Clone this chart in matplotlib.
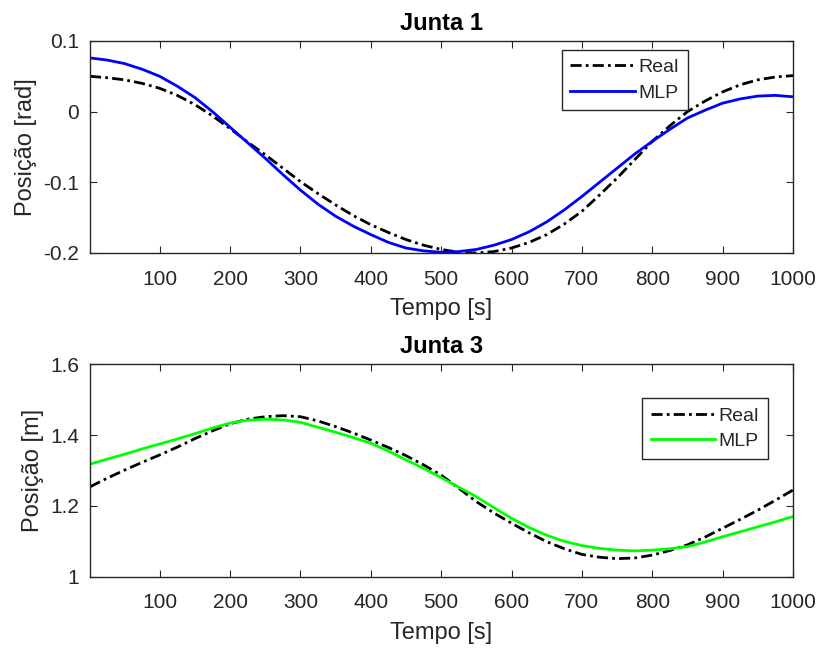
import numpy as np
import matplotlib
matplotlib.use("Agg")
import matplotlib.pyplot as plt

plt.rcParams['font.family'] = ['Liberation Sans', 'DejaVu Sans']

# sample times [s]
tempo = [1, 25, 50, 75, 100, 125, 150, 175, 200, 225, 250, 275, 300, 325, 350, 375,
         400, 425, 450, 475, 500, 525, 550, 575, 600, 625, 650, 675, 700, 725, 750,
         775, 800, 825, 850, 875, 900, 925, 950, 975, 1000]

# junta 1 [rad]
j1_real = [0.050, 0.048, 0.045, 0.040, 0.033, 0.023, 0.010, -0.006, -0.024, -0.043,
           -0.061, -0.080, -0.099, -0.116, -0.132, -0.147, -0.160, -0.171, -0.181, -0.189,
           -0.195, -0.199, -0.200, -0.198, -0.193, -0.185, -0.174, -0.159, -0.141, -0.118,
           -0.094, -0.068, -0.042, -0.020, 0.000, 0.015, 0.028, 0.038, 0.045, 0.049, 0.051]
j1_mlp = [0.076, 0.073, 0.068, 0.060, 0.050, 0.036, 0.020, 0.000, -0.022, -0.044,
          -0.066, -0.089, -0.111, -0.131, -0.148, -0.162, -0.174, -0.185, -0.193, -0.197,
          -0.199, -0.198, -0.195, -0.189, -0.181, -0.170, -0.156, -0.139, -0.120, -0.100,
          -0.080, -0.060, -0.042, -0.025, -0.009, 0.002, 0.012, 0.018, 0.022, 0.023, 0.021]

# junta 3 [m]
j3_real = [1.254, 1.278, 1.301, 1.323, 1.344, 1.366, 1.390, 1.412, 1.432, 1.445,
           1.452, 1.455, 1.452, 1.440, 1.424, 1.406, 1.386, 1.365, 1.342, 1.316,
           1.287, 1.250, 1.212, 1.180, 1.151, 1.124, 1.099, 1.079, 1.063, 1.055,
           1.051, 1.053, 1.061, 1.074, 1.090, 1.112, 1.137, 1.162, 1.188, 1.216, 1.245]
j3_mlp = [1.318, 1.332, 1.346, 1.361, 1.375, 1.389, 1.404, 1.420, 1.434, 1.442,
          1.445, 1.443, 1.436, 1.422, 1.408, 1.393, 1.377, 1.355, 1.330, 1.306,
          1.280, 1.253, 1.226, 1.195, 1.165, 1.139, 1.117, 1.100, 1.088, 1.080,
          1.075, 1.073, 1.075, 1.079, 1.085, 1.098, 1.113, 1.127, 1.141, 1.155, 1.170]

xticks = [100, 200, 300, 400, 500, 600, 700, 800, 900, 1000]
gray = '#262626'
dashdot = (4, 1.5, 1, 1.5)


def style_axes(ax, yticks, ylabels):
    ax.set_xlim(1, 1000)
    ax.set_ylim(yticks[0], yticks[-1])
    ax.set_xticks(xticks)
    ax.set_yticks(yticks)
    ax.set_yticklabels(ylabels)
    ax.tick_params(axis='both', direction='in', top=True, right=True, length=5, width=0.8,
                   colors=gray, labelsize=15)
    ax.tick_params(axis='x', pad=12)
    ax.tick_params(axis='y', pad=8)
    for s in ax.spines.values():
        s.set_color(gray)
        s.set_linewidth(1.0)
    ax.set_xlabel('Tempo [s]', fontsize=17, color=gray, labelpad=7)


fig = plt.figure(figsize=(8.19, 6.48), dpi=100)
ax1 = fig.add_axes([0.1099, 0.6096, 0.8584, 0.3272])
ax2 = fig.add_axes([0.1099, 0.1100, 0.8584, 0.3278])

ax1.plot(tempo, j1_real, color='black', linestyle=(0, dashdot), linewidth=2.0, label='Real')
ax1.plot(tempo, j1_mlp, color='blue', linewidth=2.0, label='MLP')
style_axes(ax1, [-0.2, -0.1, 0, 0.1], ['-0.2', '-0.1', '0', '0.1'])
ax1.set_ylabel('Posição [rad]', fontsize=17, color=gray)
ax1.set_title('Junta 1', fontsize=17, fontweight='bold', pad=8)

ax2.plot(tempo, j3_real, color='black', linestyle=(0, dashdot), linewidth=2.0, label='Real')
ax2.plot(tempo, j3_mlp, color='#00ff00', linewidth=2.0, label='MLP')
style_axes(ax2, [1.0, 1.2, 1.4, 1.6], ['1', '1.2', '1.4', '1.6'])
ax2.set_ylabel('Posição [m]', fontsize=17, color=gray)
ax2.set_title('Junta 3', fontsize=17, fontweight='bold', pad=8)

for ax, anchor in [(ax1, (0.671, 0.958)), (ax2, (0.785, 0.840))]:
    leg = ax.legend(loc='upper left', bbox_to_anchor=anchor, borderaxespad=0,
                    fontsize=14, fancybox=False, handlelength=3.3, handletextpad=0.2,
                    borderpad=0.45, labelspacing=0.4, framealpha=1)
    leg.get_frame().set_edgecolor(gray)
    leg.get_frame().set_linewidth(1.0)
    for t in leg.get_texts():
        t.set_color(gray)

fig.savefig('out.png', dpi=100)
